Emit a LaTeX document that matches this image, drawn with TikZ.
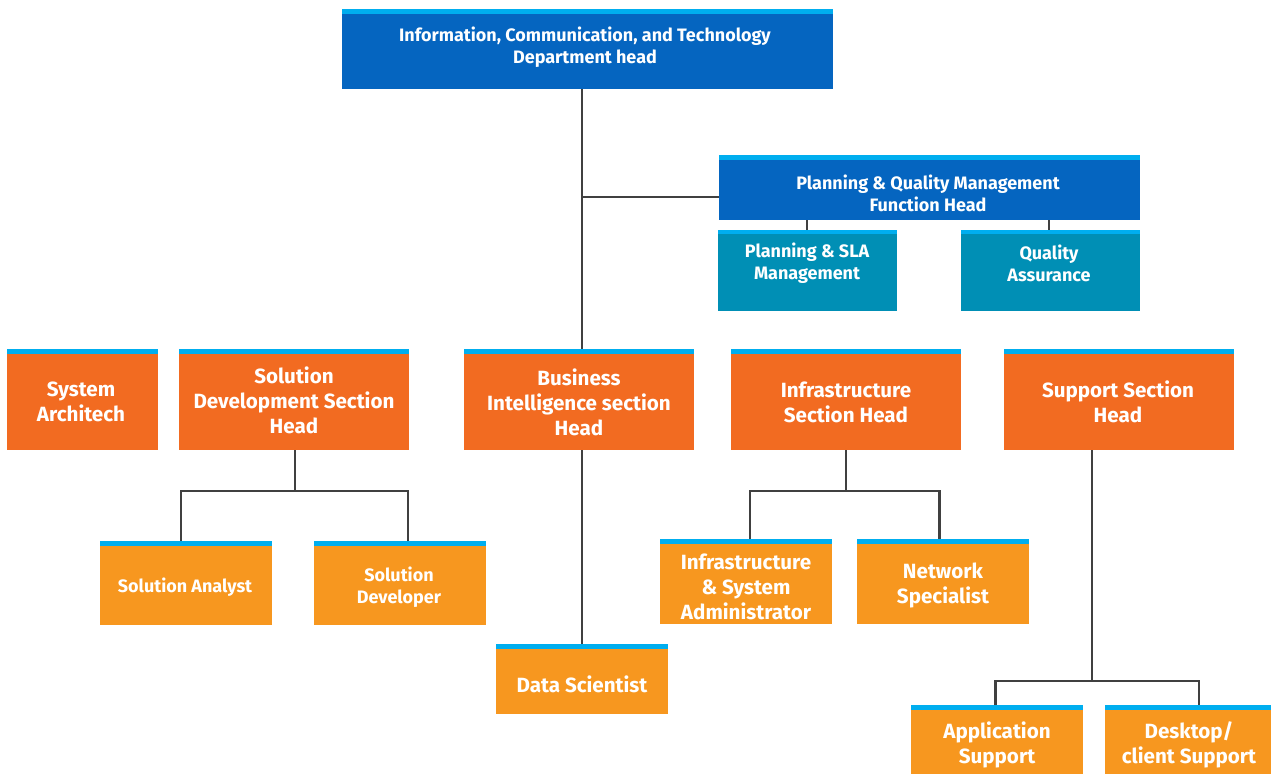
\documentclass[tikz,border=0pt]{standalone}
\usepackage{fontspec}
\setmainfont{Fira Sans}
\usetikzlibrary{calc}
\definecolor{dblue}{HTML}{0565C0}
\definecolor{stripe}{HTML}{00AEEF}
\definecolor{teal}{HTML}{008FB5}
\definecolor{dorange}{HTML}{F26B21}
\definecolor{lorange}{HTML}{F7971F}
\definecolor{conn}{HTML}{404040}
\tikzset{
  box/.style={rectangle, anchor=north west, inner sep=0pt, outer sep=0pt, draw=none,
    path picture={\fill[stripe] (path picture bounding box.north west) rectangle ([yshift=-5pt]path picture bounding box.north east);}},
  thinstripe/.style={path picture={\fill[stripe] (path picture bounding box.north west) rectangle ([yshift=-3.5pt]path picture bounding box.north east);}},
  txt/.style={text=white, align=center, font=\bfseries, inner sep=0pt, yshift=-1.5pt},
  big/.style={txt, font=\fontsize{20.6}{25}\selectfont\bfseries},
  mid/.style={txt, font=\fontsize{18}{22}\selectfont\bfseries},
  link/.style={draw=conn, line width=2.3pt},
}
\begin{document}
\begin{tikzpicture}[x=1pt,y=-1pt]
\useasboundingbox (0,0) rectangle (1271,774);
% boxes
\node[box, fill=dblue, minimum width=491pt, minimum height=80pt] (top) at (342,9) {};
\node[box, fill=dblue, minimum width=421pt, minimum height=65pt] (pqm) at (719,155) {};
\node[box, fill=teal, minimum width=179pt, minimum height=81pt, thinstripe] (psla) at (718,230) {};
\node[box, fill=teal, minimum width=179pt, minimum height=81pt, thinstripe] (qa) at (961,230) {};
\node[box, fill=dorange, minimum width=151pt, minimum height=101pt] (sysa) at (7,349) {};
\node[box, fill=dorange, minimum width=230pt, minimum height=101pt] (sdh) at (179,349) {};
\node[box, fill=dorange, minimum width=230pt, minimum height=101pt] (bih) at (464,349) {};
\node[box, fill=dorange, minimum width=230pt, minimum height=101pt] (inh) at (731,349) {};
\node[box, fill=dorange, minimum width=230pt, minimum height=101pt] (suh) at (1004,349) {};
\node[box, fill=lorange, minimum width=172pt, minimum height=84pt] (sa) at (100,541) {};
\node[box, fill=lorange, minimum width=172pt, minimum height=84pt] (sdv) at (314,541) {};
\node[box, fill=lorange, minimum width=172pt, minimum height=70pt] (ds) at (496,644) {};
\node[box, fill=lorange, minimum width=172pt, minimum height=85pt] (isa) at (660,539) {};
\node[box, fill=lorange, minimum width=172pt, minimum height=85pt] (ns) at (857,539) {};
\node[box, fill=lorange, minimum width=172pt, minimum height=69pt] (aps) at (911,705) {};
\node[box, fill=lorange, minimum width=166pt, minimum height=69pt] (dcs) at (1105,705) {};
% texts
\node[mid] (ttop) at (585,46) {Information, Communication, and Technology\\Department head};
\node[mid] (tpqm) at (928,192) {Planning \& Quality Management\\Function Head};
\node[mid] (tpsla) at (807,262) {Planning \& SLA\\Management};
\node[mid] (tqa) at (1049,262) {Quality\\Assurance};
\node[big] (tsysa) at (81,400.5) {System\\Architech};
\node[big] (tsdh) at (294,398.5) {Solution\\Development Section\\Head};
\node[big] (tbih) at (579,401) {Business\\Intelligence section\\Head};
\node[big] (tinh) at (846,400.5) {Infrastructure\\Section Head};
\node[big] (tsuh) at (1118,400.5) {Support Section\\Head};
\node[mid] (tsa) at (185,586) {Solution Analyst};
\node[mid] (tsdv) at (399,585.5) {Solution\\Developer};
\node[big] (tds) at (582,683) {Data Scientist};
\node[big] (tisa) at (746,585) {Infrastructure\\\& System\\Administrator};
\node[big] (tns) at (943,584) {Network\\Specialist};
\node[big] (taps) at (997,743) {Application\\Support};
\node[big] (tdcs) at (1189,743) {Desktop/\\client Support};
% connectors
\coordinate (jtop) at (582,197);
\draw[link] ([xshift=-5.5pt]top.south) -- ([xshift=3pt]bih.north);
\draw[link] (jtop) -- (pqm.west |- jtop);
\draw[link] (pqm.south -| tpsla) -- (psla.north -| tpsla);
\draw[link] (pqm.south -| tqa) -- (qa.north -| tqa);
\coordinate (jsd) at (295,491);
\draw[link] (sdh.south -| jsd) -- (jsd);
\draw[link] ([xshift=-5pt]sa.north) |- (jsd) -| ([xshift=8pt]sdv.north);
\draw[link] ([xshift=3pt]bih.south) -- (ds.north);
\coordinate (jin) at (846,491);
\draw[link] (inh.south -| jin) -- (jin);
\draw[link] ([xshift=4pt]isa.north) |- (jin) -| ([xshift=-3.5pt]ns.north);
\coordinate (jsu) at (1092,681);
\draw[link] (suh.south -| jsu) -- (jsu);
\draw[link] ([xshift=-1.5pt]aps.north) |- (jsu) -| ([xshift=11pt]dcs.north);
\end{tikzpicture}
\end{document}
